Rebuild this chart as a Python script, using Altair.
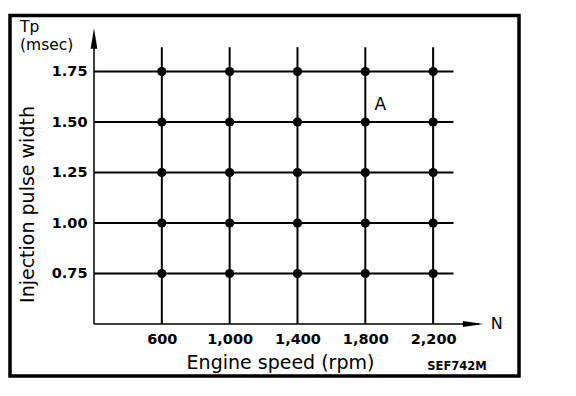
import altair as alt
import pandas as pd

# --- data ---
rpm = [600, 1000, 1400, 1800, 2200]          # engine speed tick / grid values
tp = [0.75, 1.00, 1.25, 1.50, 1.75]          # injection pulse width tick / grid values
x_axis_start = 200
x_axis_end = 2470
x_arrow = 2436
y_axis_end = 1.93
y_arrow = 1.913
h_line_end = 2320
v_line_top = 1.87
label_a = {"x": 1888, "y": 1.585, "t": "A"}

points = pd.DataFrame([(r, t) for r in rpm for t in tp], columns=["rpm", "tp"])
hlines = pd.DataFrame({"tp": tp, "x1": [x_axis_start] * len(tp), "x2": [h_line_end] * len(tp)})
vlines = pd.DataFrame({"rpm": rpm, "y1": [0.5] * len(rpm), "y2": [v_line_top] * len(rpm)})

FONT = "DejaVu Sans"
xs = alt.Scale(domain=[200, 2500], nice=False, zero=False)
ys = alt.Scale(domain=[0.5, 2.0], nice=False, zero=False)

xaxis = alt.Axis(values=rpm, format=",.0f", labelFont=FONT, labelFontWeight="bold",
                 labelFontSize=14.5, labelColor="black", domain=False, ticks=False,
                 tickSize=0, grid=False, labelPadding=8,
                 title="Engine speed (rpm)", titleFont=FONT, titleFontSize=19,
                 titleFontWeight="normal", titleColor="black", titleX=186, titleY=44,
                 titleAlign="center", titleBaseline="alphabetic")
yaxis = alt.Axis(values=tp, format=".2f", labelFont=FONT, labelFontWeight="bold",
                 labelFontSize=14.5, labelColor="black", domain=False, ticks=False,
                 tickSize=0, grid=False, labelPadding=7,
                 title="Injection pulse width", titleFont=FONT, titleFontSize=19,
                 titleFontWeight="normal", titleColor="black", titleX=-61, titleY=183,
                 titleAngle=270, titleAlign="center", titleBaseline="alphabetic")

h = alt.Chart(hlines).mark_rule(color="black", strokeWidth=2).encode(
    x=alt.X("x1:Q", scale=xs, axis=xaxis), x2="x2:Q",
    y=alt.Y("tp:Q", scale=ys, axis=yaxis))
v = alt.Chart(vlines).mark_rule(color="black", strokeWidth=2).encode(
    x=alt.X("rpm:Q", scale=xs), y=alt.Y("y1:Q", scale=ys), y2="y2:Q")

axes_df = pd.DataFrame({"x1": [x_axis_start, x_axis_start], "x2": [x_axis_end, x_axis_start],
                        "y1": [0.5, 0.5], "y2": [0.5, y_axis_end]})
ax = alt.Chart(axes_df).mark_rule(color="black", strokeWidth=1.5).encode(
    x=alt.X("x1:Q", scale=xs), x2="x2:Q", y=alt.Y("y1:Q", scale=ys), y2="y2:Q")

arrow_up = alt.Chart(pd.DataFrame({"x": [x_axis_start], "y": [y_arrow]})).mark_point(
    shape="M0,-1L0.33,1L-0.33,1Z", filled=True, size=420, color="black", opacity=1
).encode(x=alt.X("x:Q", scale=xs), y=alt.Y("y:Q", scale=ys))
arrow_right = alt.Chart(pd.DataFrame({"x": [x_arrow], "y": [0.5]})).mark_point(
    shape="M1,0L-1,-0.3L-1,0.3Z", filled=True, size=420, color="black", opacity=1
).encode(x=alt.X("x:Q", scale=xs), y=alt.Y("y:Q", scale=ys))

dots = alt.Chart(points).mark_circle(size=85, color="black", opacity=1).encode(
    x=alt.X("rpm:Q", scale=xs), y=alt.Y("tp:Q", scale=ys))

a_txt = alt.Chart(pd.DataFrame([label_a])).mark_text(
    font=FONT, fontSize=17, color="black", align="center", baseline="middle"
).encode(x=alt.X("x:Q", scale=xs), y=alt.Y("y:Q", scale=ys), text="t:N")

n_txt = alt.Chart(pd.DataFrame({"x": [2540], "y": [0.5], "t": ["N"]})).mark_text(
    font=FONT, fontSize=16, color="black", align="left", baseline="middle"
).encode(x=alt.X("x:Q", scale=xs), y=alt.Y("y:Q", scale=ys), text="t:N")

tp_txt1 = alt.Chart(pd.DataFrame({"t": ["Tp"]})).mark_text(
    font=FONT, fontSize=15.5, color="black", align="left", baseline="alphabetic"
).encode(x=alt.value(-74), y=alt.value(11), text="t:N")
tp_txt2 = alt.Chart(pd.DataFrame({"t": ["(msec)"]})).mark_text(
    font=FONT, fontSize=15.5, color="black", align="left", baseline="alphabetic"
).encode(x=alt.value(-74), y=alt.value(29), text="t:N")

code_txt = alt.Chart(pd.DataFrame({"t": ["SEF742M"]})).mark_text(
    font=FONT, fontSize=11.5, fontWeight="bold", color="black", align="center",
    baseline="alphabetic"
).encode(x=alt.value(363), y=alt.value(349), text="t:N")

frame = alt.Chart(pd.DataFrame({"k": [0]})).mark_rect(
    fill=None, fillOpacity=0, stroke="black", strokeWidth=3.5
).encode(x=alt.value(-84), x2=alt.value(425), y=alt.value(-5.5), y2=alt.value(355))

chart = alt.layer(h, v, ax, arrow_up, arrow_right, dots, a_txt, n_txt, tp_txt1, tp_txt2,
                  code_txt, frame).properties(
    width=390, height=303,
    autosize=alt.AutoSizeParams(type="none"),
    padding={"left": 86, "top": 13, "right": 84, "bottom": 64},
    background="white",
).configure_view(stroke=None)

chart.save("out.html", embed_options={"renderer": "svg", "actions": False})
